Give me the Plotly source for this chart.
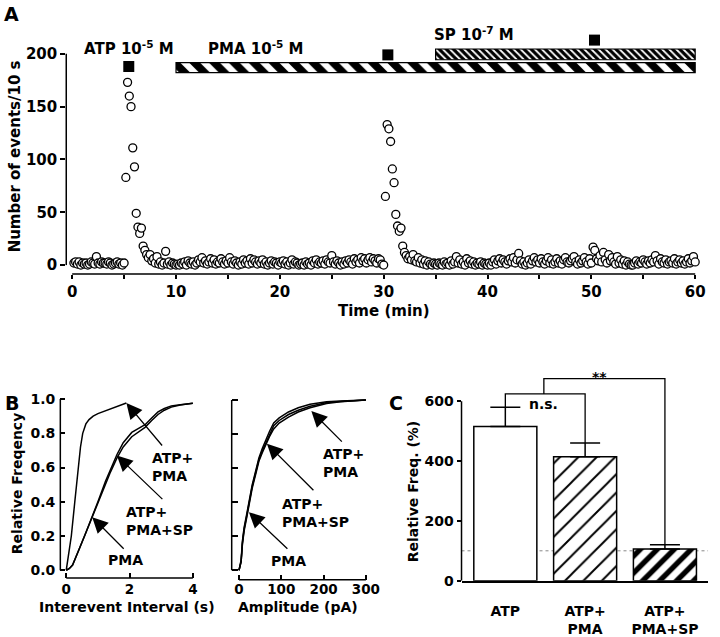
import plotly.graph_objects as go

W, H = 720, 637
FONT = "DejaVu Sans"

# ---------------- DATA ----------------
# Panel A: number of events per 10-s bin (0-60 min)
counts_00_05 = [2, 3, 1, 3, 0, 2, 1, 2, 0, 1, 3, 2, 1, 8, 2, 1, 3, 2, 2, 1, 3, 2, 0, 1, 2, 3, 1, 2, 0, 2]
counts_05_10 = [83, 173, 160, 150, 111, 93, 49, 36, 30, 35, 18, 14, 10, 7, 10, 4, 6, 2, 8, 1, 3, 0, 2, 13, 1, 3, 0, 2, 1, 0]
counts_10_15 = [1, 0, 2, 1, 3, 0, 4, 2, 1, 3, 0, 2, 5, 3, 7, 2, 4, 1, 3, 6, 2, 5, 1, 3, 2, 6, 3, 1, 4, 2]
counts_15_20 = [7, 3, 1, 4, 2, 0, 3, 1, 5, 2, 4, 1, 6, 2, 5, 3, 1, 4, 2, 5, 1, 3, 0, 2, 4, 1, 3, 2, 0, 3]
counts_20_25 = [2, 4, 1, 3, 0, 2, 5, 1, 3, 2, 0, 1, 2, 0, 3, 1, 2, 0, 4, 2, 5, 1, 3, 2, 4, 1, 5, 3, 2, 9]
counts_25_30 = [3, 1, 4, 2, 0, 3, 1, 4, 2, 5, 3, 1, 6, 3, 5, 2, 7, 4, 6, 2, 5, 7, 3, 6, 4, 2, 6, 5, 1, 0]
counts_30_35 = [65, 133, 129, 117, 91, 78, 48, 37, 32, 35, 18, 12, 9, 6, 8, 5, 10, 4, 3, 7, 2, 5, 1, 4, 0, 3, 1, 0, 2, 1]
counts_35_40 = [0, 2, 1, 0, 3, 1, 2, 0, 4, 1, 3, 8, 2, 5, 1, 3, 0, 6, 2, 4, 1, 3, 0, 2, 1, 3, 0, 2, 1, 0]
counts_40_45 = [2, 0, 3, 5, 1, 4, 6, 2, 5, 3, 1, 4, 6, 3, 7, 2, 5, 11, 4, 1, 3, 0, 2, 5, 1, 4, 7, 3, 5, 2]
counts_45_50 = [6, 3, 1, 4, 7, 2, 5, 1, 3, 6, 2, 4, 1, 5, 7, 3, 2, 4, 6, 8, 3, 1, 5, 2, 4, 7, 3, 1, 6, 2]
counts_50_55 = [17, 14, 6, 4, 9, 3, 12, 5, 2, 10, 4, 7, 3, 1, 8, 2, 5, 1, 4, 0, 3, 1, 0, 0, 2, 4, 1, 3, 2, 5]
counts_55_60 = [3, 1, 4, 2, 5, 3, 9, 4, 1, 6, 3, 2, 5, 1, 3, 4, 2, 6, 1, 3, 5, 2, 4, 1, 3, 6, 2, 4, 8, 3]
BIN_SECONDS = 10

# Panel A: drug application marks
atp_times = [5.45, 30.4, 50.3]
atp_mark_levels = [188, 199, 213]
pma_period = [10, 60]
sp_period = [35, 60]
pma_bar_level, pma_bar_thick = 187, 9.5
sp_bar_level, sp_bar_thick = 199.5, 10.2

# Panel B (left): cumulative interevent interval distributions
ivl_atp_pma_x = [0, 0.08, 0.16, 0.27, 0.375, 0.45, 0.52, 0.57, 0.62, 0.72, 0.85, 1.0, 1.3, 1.6, 1.9]
ivl_atp_pma_y = [0, 0.1, 0.2, 0.4, 0.6, 0.72, 0.8, 0.83, 0.855, 0.88, 0.9, 0.915, 0.935, 0.955, 0.977]
ivl_pma_x = [0, 0.1, 0.2, 0.3, 0.4, 0.6, 0.82, 1.0, 1.24, 1.4, 1.6, 1.8, 2.07, 2.3, 2.49, 2.7, 2.9, 3.1, 3.32, 3.6, 4.0]
ivl_pma_y = [0, 0.01, 0.03, 0.07, 0.12, 0.21, 0.31, 0.4, 0.52, 0.59, 0.675, 0.745, 0.805, 0.83, 0.85, 0.89, 0.925, 0.945, 0.96, 0.967, 0.975]
ivl_sp_x = [0, 0.1, 0.2, 0.3, 0.4, 0.6, 0.82, 1.0, 1.24, 1.4, 1.6, 1.8, 2.07, 2.3, 2.49, 2.7, 2.9, 3.1, 3.32, 3.6, 4.0]
ivl_sp_y = [0, 0.01, 0.03, 0.07, 0.12, 0.21, 0.31, 0.4, 0.51, 0.575, 0.655, 0.72, 0.78, 0.81, 0.835, 0.875, 0.91, 0.935, 0.953, 0.965, 0.975]

# Panel B (right): cumulative amplitude distributions
amp_x = [0, 5, 8, 12, 19, 25, 31, 40, 47, 55, 62, 72, 82, 95, 117, 140, 168, 190, 207, 240, 270, 300]
amp_atp_pma_y = [0, 0.05, 0.16, 0.24, 0.33, 0.42, 0.49, 0.58, 0.65, 0.7, 0.74, 0.8, 0.85, 0.88, 0.915, 0.94, 0.963, 0.975, 0.985, 0.992, 0.996, 1.0]
amp_pma_y = [0, 0.06, 0.17, 0.25, 0.34, 0.43, 0.5, 0.59, 0.66, 0.715, 0.76, 0.815, 0.865, 0.895, 0.93, 0.955, 0.975, 0.985, 0.99, 0.995, 0.998, 1.0]
amp_sp_y = [0, 0.05, 0.15, 0.23, 0.32, 0.41, 0.48, 0.57, 0.64, 0.69, 0.73, 0.785, 0.83, 0.865, 0.9, 0.93, 0.955, 0.97, 0.98, 0.99, 0.995, 1.0]

# Panel C: relative frequency (%)
c_categories = ["ATP", "ATP+<br>PMA", "ATP+<br>PMA+SP"]
c_values = [516, 415, 106]
c_errors = [64, 46, 14]
c_baseline = 100

# ---------------- HELPERS ----------------
def fx(p):
    return p / W


def fy(p):
    return 1 - p / H


def xr(zero_px, px_per_unit, lo_px, hi_px):
    return [(lo_px - zero_px) / px_per_unit, (hi_px - zero_px) / px_per_unit]


def yr(zero_px, px_per_unit, bottom_px, top_px):
    return [(zero_px - bottom_px) / px_per_unit, (zero_px - top_px) / px_per_unit]


def tfont(size):
    return dict(family=FONT, size=size, color="black", weight="bold")


counts = (counts_00_05 + counts_05_10 + counts_10_15 + counts_15_20 + counts_20_25 + counts_25_30
          + counts_30_35 + counts_35_40 + counts_40_45 + counts_45_50 + counts_50_55 + counts_55_60)
times = [(i + 1) * BIN_SECONDS / 60 for i in range(len(counts))]

fig = go.Figure()

# ---- Panel A ----
fig.add_trace(go.Bar(
    orientation="h", y=[pma_bar_level], x=[pma_period[1] - pma_period[0]], base=[pma_period[0]],
    width=[pma_bar_thick], xaxis="x", yaxis="y",
    marker=dict(color="white", line=dict(color="black", width=1.2),
                pattern=dict(shape="\\", fgcolor="black", bgcolor="white", fgopacity=1, size=14, solidity=0.55)),
    showlegend=False, hoverinfo="skip"))
fig.add_trace(go.Bar(
    orientation="h", y=[sp_bar_level], x=[sp_period[1] - sp_period[0]], base=[sp_period[0]],
    width=[sp_bar_thick], xaxis="x", yaxis="y",
    marker=dict(color="black", line=dict(color="black", width=1.2),
                pattern=dict(shape="\\", fgcolor="white", bgcolor="black", fgopacity=1, size=5, solidity=0.35)),
    showlegend=False, hoverinfo="skip"))
fig.add_trace(go.Scatter(
    x=times, y=counts, mode="markers", xaxis="x", yaxis="y", cliponaxis=False,
    marker=dict(symbol="circle", size=8, color="white", line=dict(color="black", width=1.3)),
    showlegend=False, hoverinfo="skip"))
fig.add_trace(go.Scatter(
    x=atp_times, y=atp_mark_levels, mode="markers", xaxis="x", yaxis="y", cliponaxis=False,
    marker=dict(symbol="square", size=11, color="black"), showlegend=False, hoverinfo="skip"))

# ---- Panel B left ----
for xs, ys in [(ivl_atp_pma_x, ivl_atp_pma_y), (ivl_pma_x, ivl_pma_y), (ivl_sp_x, ivl_sp_y)]:
    fig.add_trace(go.Scatter(x=xs, y=ys, mode="lines", xaxis="x2", yaxis="y2",
                             line=dict(color="black", width=1.5), showlegend=False, hoverinfo="skip"))
# ---- Panel B right ----
for ys in [amp_atp_pma_y, amp_pma_y, amp_sp_y]:
    fig.add_trace(go.Scatter(x=amp_x, y=ys, mode="lines", xaxis="x3", yaxis="y3",
                             line=dict(color="black", width=1.5), showlegend=False, hoverinfo="skip"))

# ---- Panel C ----
fig.add_trace(go.Bar(
    x=list(range(len(c_values))), y=c_values, width=0.79, xaxis="x4", yaxis="y4",
    marker=dict(color="white", line=dict(color="black", width=1.5),
                pattern=dict(shape=["", "/", "/"], fgcolor="black", bgcolor="white", fgopacity=1,
                             size=[13, 13, 12], solidity=[0.1, 0.15, 0.45])),
    error_y=dict(type="data", symmetric=False, array=c_errors, arrayminus=[0] * len(c_errors),
                 color="black", thickness=1.5, width=15),
    showlegend=False, hoverinfo="skip"))

# ---------------- AXES ----------------
common = dict(showgrid=False, zeroline=False, showline=False, tickcolor="black", tickwidth=1.5)

A_X = dict(zero=73, s=10.5, lo=67, hi=712)
A_Y = dict(zero=269, s=1.08, bottom=278, top=32)
B1_X = dict(zero=67, s=32, lo=61, hi=200)
B1_Y = dict(zero=581, s=175, bottom=589, top=400)
B2_X = dict(zero=241.7, s=0.4277, lo=234.3, hi=376)
B2_Y = dict(zero=581, s=174, bottom=590.7, top=400)
C_X = dict(zero=511, s=80.7, lo=466.7, hi=716)
C_Y = dict(zero=591.7, s=0.3056, bottom=591.7, top=378)

a_xticks = list(range(0, 61, 5))
fig.update_layout(
    width=W, height=H, margin=dict(l=0, r=0, t=0, b=0),
    paper_bgcolor="white", plot_bgcolor="rgba(0,0,0,0)", barmode="overlay",
    xaxis=dict(common, domain=[fx(A_X["lo"]), fx(A_X["hi"])], range=xr(A_X["zero"], A_X["s"], A_X["lo"], A_X["hi"]),
               anchor="y", tickvals=a_xticks, ticktext=[str(v) if v % 10 == 0 else "" for v in a_xticks],
               ticks="outside", ticklen=4, tickfont=tfont(15)),
    yaxis=dict(common, domain=[fy(A_Y["bottom"]), fy(A_Y["top"])], range=yr(A_Y["zero"], A_Y["s"], A_Y["bottom"], A_Y["top"]),
               anchor="x", tickvals=[0, 50, 100, 150, 200], ticks="outside", ticklen=5, tickfont=tfont(15)),
    xaxis2=dict(common, domain=[fx(B1_X["lo"]), fx(B1_X["hi"])], range=xr(B1_X["zero"], B1_X["s"], B1_X["lo"], B1_X["hi"]),
                anchor="y2", tickvals=[0, 2, 4], ticks="inside", ticklen=5, tickfont=tfont(13.5), ticklabelstandoff=1),
    yaxis2=dict(common, domain=[fy(B1_Y["bottom"]), fy(B1_Y["top"])], range=yr(B1_Y["zero"], B1_Y["s"], B1_Y["bottom"], B1_Y["top"]),
                anchor="x2", tickvals=[0, 0.2, 0.4, 0.6, 0.8, 1.0], tickformat=".1f", ticks="inside", ticklen=5,
                tickfont=tfont(14), ticklabelstandoff=4),
    xaxis3=dict(common, domain=[fx(B2_X["lo"]), fx(B2_X["hi"])], range=xr(B2_X["zero"], B2_X["s"], B2_X["lo"], B2_X["hi"]),
                anchor="y3", tickvals=[0, 100, 200, 300], ticks="inside", ticklen=5, tickfont=tfont(13.5), ticklabelstandoff=0),
    yaxis3=dict(common, domain=[fy(B2_Y["bottom"]), fy(B2_Y["top"])], range=yr(B2_Y["zero"], B2_Y["s"], B2_Y["bottom"], B2_Y["top"]),
                anchor="x3", tickvals=[0, 0.2, 0.4, 0.6, 0.8, 1.0], ticks="inside", ticklen=6, showticklabels=False),
    xaxis4=dict(common, domain=[fx(C_X["lo"]), fx(C_X["hi"])], range=xr(C_X["zero"], C_X["s"], C_X["lo"], C_X["hi"]),
                anchor="y4", tickvals=list(range(len(c_categories))), ticktext=c_categories, ticks="",
                showline=True, linecolor="black", linewidth=1.5, tickfont=tfont(14), ticklabelstandoff=17),
    yaxis4=dict(common, domain=[fy(C_Y["bottom"]), fy(C_Y["top"])], range=yr(C_Y["zero"], C_Y["s"], C_Y["bottom"], C_Y["top"]),
                anchor="x4", tickvals=[0, 200, 400, 600], ticks="outside", ticklen=4, tickfont=tfont(14)),
)

# ---------------- AXIS LINES / DECORATION SHAPES ----------------
LW = 1.5
shapes = []


def axis_lines(xa, ya, x_end, y_end):
    shapes.append(dict(type="line", xref=f"{xa} domain", yref=ya, x0=0, x1=0, y0=0, y1=y_end,
                       line=dict(color="black", width=LW)))
    shapes.append(dict(type="line", xref=xa, yref=f"{ya} domain", x0=0, x1=x_end, y0=0, y1=0,
                       line=dict(color="black", width=LW)))


axis_lines("x", "y", 60, 200)
axis_lines("x2", "y2", 4, 1.0)
axis_lines("x3", "y3", 300, 1.0)
shapes.append(dict(type="line", xref="x4 domain", yref="y4", x0=0, x1=0, y0=0, y1=600,
                   line=dict(color="black", width=LW)))
# baseline (100 %)
shapes.append(dict(type="line", xref="x4 domain", yref="y4", x0=0, x1=1, y0=c_baseline, y1=c_baseline,
                   line=dict(color="#888888", width=1, dash="dot"), layer="below"))
# significance brackets
tops = [v + e for v, e in zip(c_values, c_errors)]
ns_level, ss_level = 625, 676
shapes.append(dict(type="path", xref="x4", yref="y4",
                   path=f"M0,{tops[0]} V{ns_level} H1 V{tops[1]}", line=dict(color="black", width=1.3)))
shapes.append(dict(type="path", xref="x4", yref="y4",
                   path=f"M0.483,{ns_level} V{ss_level} H2 V{tops[2]}", line=dict(color="black", width=1.3)))
fig.update_layout(shapes=shapes)

# ---------------- TEXT ----------------
ann = []


def text(t, xpx, ypx, size, angle=0, align="center", xanchor="center"):
    ann.append(dict(text=t, x=fx(xpx), y=fy(ypx), xref="paper", yref="paper", showarrow=False,
                    font=tfont(size), textangle=angle, align=align, xanchor=xanchor, yanchor="middle"))


text("A", 11.5, 12, 19)
text("B", 12, 410, 19)
text("C", 400, 410, 19)
text("ATP 10<sup>-5</sup> M", 130, 47, 15)
text("PMA 10<sup>-5</sup> M", 258.5, 47, 15)
text("SP 10<sup>-7</sup> M", 479.5, 33, 15)
text("Time (min)", 388, 316, 15)
text("Number of events/10 s", 15, 158, 15, angle=-90)
text("Relative Freqency", 16.7, 492.5, 14, angle=-90)
text("Interevent Interval (s)", 128, 619, 14)
text("Amplitude (pA)", 301.7, 619, 14)
text("Relative Freq. (%)", 418, 500, 14, angle=-90)
text("n.s.", 550, 411, 14)
text("**", 606, 383, 14)
# Panel B labels
text("ATP+<br>PMA", 152, 475.5, 14, align="left", xanchor="left")
text("ATP+<br>PMA+SP", 125, 531, 14, align="left", xanchor="left")
text("PMA", 126.5, 570.7, 14)
text("ATP+<br>PMA", 325, 471, 14, align="left", xanchor="left")
text("ATP+<br>PMA+SP", 283, 522.5, 14, align="left", xanchor="left")
text("PMA", 291.5, 571.7, 14)


def arrow(xa, ya, x, y, ax, ay):
    ann.append(dict(text="", x=x, y=y, xref=xa, yref=ya, ax=ax, ay=ay, showarrow=True,
                    arrowhead=2, arrowsize=2.4, arrowwidth=1.3, arrowcolor="black", standoff=0))


arrow("x2", "y2", 1.9, 0.977, 37, 44)
arrow("x2", "y2", 1.6, 0.67, 47, 45)
arrow("x2", "y2", 0.82, 0.31, 33, 33)
arrow("x3", "y3", 171, 0.935, 32, 32)
arrow("x3", "y3", 66, 0.743, 48, 48)
arrow("x3", "y3", 23.4, 0.341, 40, 38)

fig.update_layout(annotations=ann)
fig.write_html("out.html", config={"displayModeBar": False},
               post_script="document.body.style.margin='0px';document.body.style.padding='0px';")
